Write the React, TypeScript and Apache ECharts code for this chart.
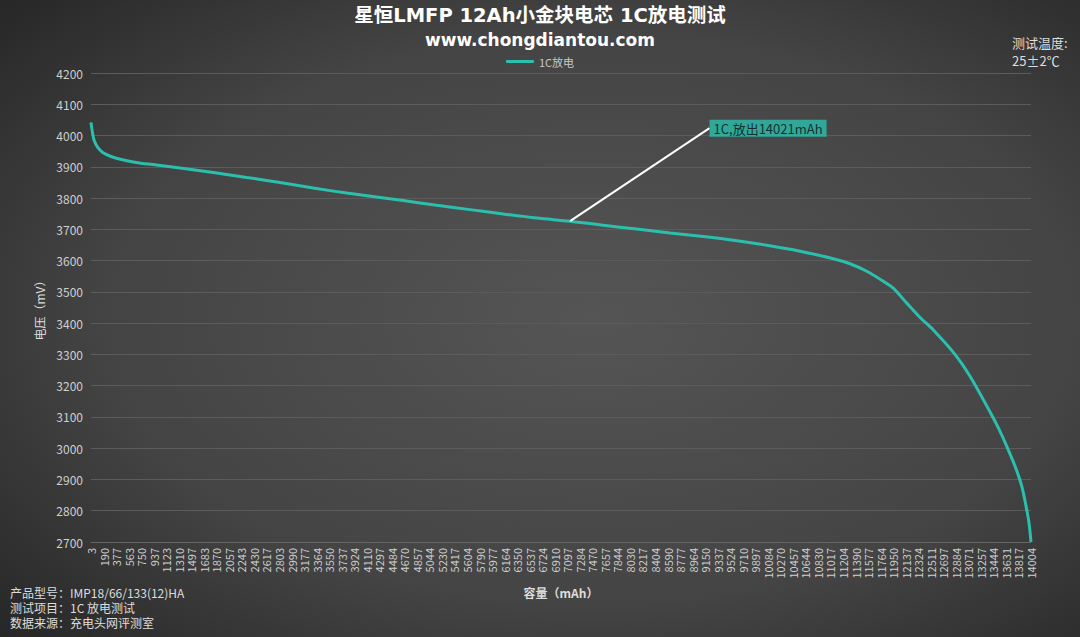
import React, { useEffect, useRef } from "react";
import * as echarts from "echarts";

const tickLabels: string[] = [
  "3", "190", "377", "563", "750", "937", "1123", "1310", "1497", "1683",
  "1870", "2057", "2243", "2430", "2617", "2803", "2990", "3177", "3364", "3550",
  "3737", "3924", "4110", "4297", "4484", "4670", "4857", "5044", "5230", "5417",
  "5604", "5790", "5977", "6164", "6350", "6537", "6724", "6910", "7097", "7284",
  "7470", "7657", "7844", "8030", "8217", "8404", "8590", "8777", "8964", "9150",
  "9337", "9524", "9710", "9897", "10084", "10270", "10457", "10644", "10830", "11017",
  "11204", "11390", "11577", "11764", "11950", "12137", "12324", "12511", "12697", "12884",
  "13071", "13257", "13444", "13631", "13817", "14004",
];

// capacity (mAh)
const capacity: number[] = [
  3, 28, 52, 103, 177, 301, 425, 673, 922, 1329,
  1825, 2322, 2818, 3314, 3812, 4308, 4655, 5152, 5648, 6144,
  6642, 7138, 7634, 8131, 8627, 9123, 9570, 10068, 10564, 11060,
  11308, 11557, 11804, 11953, 12153, 12351, 12549, 12872, 13096,
  13394, 13518, 13643, 13767, 13867, 13931, 13975, 14004,
];

// voltage (mV)
const voltage: number[] = [
  4042, 4005, 3983, 3962, 3946, 3933, 3925, 3914, 3907, 3896,
  3882, 3866, 3850, 3832, 3816, 3802, 3792, 3777, 3763, 3749,
  3736, 3726, 3713, 3701, 3688, 3677, 3665, 3649, 3630, 3606,
  3590, 3566, 3534, 3512, 3464, 3418, 3378, 3300, 3230,
  3116, 3065, 3006, 2942, 2878, 2814, 2760, 2700,
];

const annotationPoint: number[] = [7138, 3726];
const annotationText = "1C,放出14021mAh";
const seriesName = "1C放电";
const yMin = 2700;
const yMax = 4200;
const yStep = 100;

const FONT = "'Noto Sans CJK SC', 'Noto Sans', sans-serif";
const TITLE_FONT = "'DejaVu Sans', 'Noto Sans CJK SC', sans-serif";
const TEAL = "#2bbfad";

export default function App() {
  const ref = useRef<HTMLDivElement>(null);

  useEffect(() => {
    document.body.style.margin = "0";
    if (!ref.current) return;
    const chart = echarts.init(ref.current, undefined, { renderer: "svg" });
    const lineData = capacity.map((c, i) => [c, voltage[i]]);

    chart.setOption({
      animation: false,
      backgroundColor: {
        type: "radial",
        x: 0.55,
        y: 0.5,
        r: 0.75,
        colorStops: [
          { offset: 0, color: "#555555" },
          { offset: 0.6, color: "#444444" },
          { offset: 1, color: "#262626" },
        ],
      },
      textStyle: { fontFamily: FONT },
      title: [
        {
          text: "星恒LMFP 12Ah小金块电芯 1C放电测试",
          left: "center",
          top: 0,
          padding: 0,
          textStyle: { color: "#ffffff", fontSize: 19.5, lineHeight: 31, fontWeight: "bold", fontFamily: TITLE_FONT },
        },
        {
          text: "www.chongdiantou.com",
          left: "center",
          top: 29.5,
          padding: 0,
          textStyle: { color: "#ffffff", fontSize: 17, lineHeight: 20, fontWeight: "bold", fontFamily: "'DejaVu Sans', sans-serif" },
        },
      ],
      legend: {
        top: 51,
        left: "center",
        data: [{ name: seriesName, icon: "roundRect" }],
        itemWidth: 28,
        itemHeight: 3,
        itemGap: 4,
        textStyle: { color: "#c8c8c8", fontSize: 11, fontFamily: FONT },
      },
      grid: { left: 91, right: 49, top: 73, bottom: 95, containLabel: false },
      xAxis: [
        {
          type: "category",
          data: tickLabels,
          boundaryGap: false,
          name: "容量（mAh）",
          nameLocation: "middle",
          nameGap: 42,
          nameTextStyle: { color: "#dddddd", fontSize: 12, fontWeight: "bold", fontFamily: FONT },
          axisLine: { show: true, lineStyle: { color: "#666666" } },
          axisTick: { show: false },
          axisLabel: { interval: 0, rotate: 90, color: "#cfcfcf", fontSize: 11, margin: 6, fontFamily: FONT },
          splitLine: { show: false },
        },
        {
          type: "value",
          min: 3,
          max: 14004,
          show: false,
          position: "bottom",
        },
      ],
      yAxis: {
        type: "value",
        min: yMin,
        max: yMax,
        interval: yStep,
        name: "电压（mV）",
        nameLocation: "middle",
        nameGap: 46,
        nameRotate: 90,
        nameTextStyle: { color: "#dddddd", fontSize: 12, fontFamily: FONT },
        axisLine: { show: false },
        axisTick: { show: false },
        axisLabel: {
          color: "#cfcfcf",
          fontSize: 12,
          margin: 8,
          fontFamily: FONT,
          formatter: (v: number) => String(v),
        },
        splitLine: { show: true, lineStyle: { color: "#5c5c5c", width: 1 } },
      },
      series: [
        {
          name: seriesName,
          type: "line",
          xAxisIndex: 1,
          data: lineData,
          smooth: 0.3,
          showSymbol: false,
          symbol: "none",
          lineStyle: { color: TEAL, width: 3 },
          itemStyle: { color: TEAL },
        },
        {
          name: "annotation",
          type: "scatter",
          xAxisIndex: 1,
          data: [annotationPoint],
          symbolSize: 1,
          itemStyle: { color: "#ffffff" },
          silent: true,
          z: 5,
          label: {
            show: true,
            position: "right",
            distance: 0,
            formatter: annotationText,
            backgroundColor: TEAL,
            color: "#0d0d0d",
            fontSize: 13,
            fontFamily: FONT,
            padding: [2, 4, 2, 4],
          },
          labelLayout: { dx: 139, dy: -93 },
          labelLine: { show: true, lineStyle: { color: "#ffffff", width: 2 } },
        },
      ],
      graphic: [
        {
          type: "text",
          left: 1012,
          top: 36,
          style: { text: "测试温度:", fill: "#dddddd", font: `13px ${FONT}` },
        },
        {
          type: "text",
          left: 1012,
          top: 54,
          style: { text: "25±2℃", fill: "#dddddd", font: `13px ${FONT}` },
        },
        {
          type: "text",
          left: 10,
          top: 586,
          style: { text: "产品型号：IMP18/66/133(12)HA", fill: "#dddddd", font: `12px ${FONT}` },
        },
        {
          type: "text",
          left: 10,
          top: 601,
          style: { text: "测试项目：1C 放电测试", fill: "#dddddd", font: `12px ${FONT}` },
        },
        {
          type: "text",
          left: 10,
          top: 616,
          style: { text: "数据来源：充电头网评测室", fill: "#dddddd", font: `12px ${FONT}` },
        },
      ],
    });

    return () => {
      chart.dispose();
    };
  }, []);

  return <div ref={ref} style={{ width: 1080, height: 637 }} />;
}
